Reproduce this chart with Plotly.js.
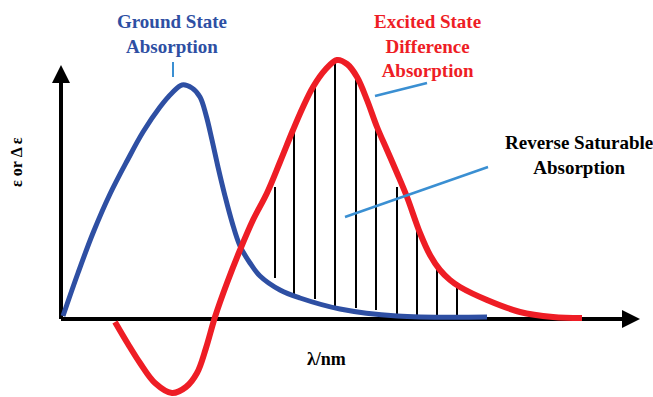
<!DOCTYPE html>
<html>
<head>
<meta charset="utf-8">
<script src="https://cdn.plot.ly/plotly-3.0.1.min.js"></script>
<style>html,body{margin:0;padding:0;background:#fff;}#chart{width:653px;height:397px;}</style>
</head>
<body>
<div id="chart"></div>
<script>
// Schematic coordinates: origin at the axis corner, units ~ pixels
const groundX = [2, 17, 32, 49, 66, 82, 99, 111, 121, 131, 139, 145, 151, 157, 164, 171, 179, 189, 199, 219, 239, 279, 336, 426];
const groundY = [3, 46, 86, 125, 158, 187, 212, 226, 234, 231, 222, 204, 179, 152, 123, 97, 73, 56, 43, 29, 21, 10, 3, 2];

const excitedX = [54, 67, 79, 94, 111, 125, 136, 145, 154, 166, 179, 192, 206, 219, 232, 242, 252, 264, 276, 286, 296, 306, 316, 326, 336, 346, 359, 369, 379, 389, 399, 426, 459, 492, 521];
const excitedY = [-3, -25, -44, -64, -74, -68, -54, -29, 2, 36, 69, 99, 126, 157, 189, 212, 232, 249, 259, 255, 242, 219, 192, 169, 146, 122, 86, 64, 49, 39, 32, 19, 7, 2, 1];

const rsaX = [214, 233, 254, 274, 295, 315, 336, 356, 376, 396];
const rsaTop = [132, 193, 234, 256, 244, 192, 132, 92, 52, 32];
const rsaBottom = [41, 22, 20, 11, 11, 9, 1, 1, 1, 1];

const labels = {
  ground: 'Ground State<br>Absorption',
  excited: 'Excited State<br>Difference<br>Absorption',
  rsa: 'Reverse Saturable<br>Absorption',
  yTitle: 'ε or Δ ε',
  xTitle: 'λ/nm'
};

const axisEndX = 579, axisEndY = 254;

const vx = [], vy = [];
rsaX.forEach((x, i) => { vx.push(x, x, null); vy.push(rsaBottom[i], rsaTop[i], null); });

const serif = 'Liberation Serif, Times New Roman, serif';
const leaderColor = '#3a8fd2';

const traces = [
  {x: [0, axisEndX - 6], y: [0, 0], mode: 'lines', line: {color: '#000', width: 4}, hoverinfo: 'skip'},
  {x: [0, 0], y: [0, axisEndY - 6], mode: 'lines', line: {color: '#000', width: 4}, hoverinfo: 'skip'},
  {x: vx, y: vy, mode: 'lines', line: {color: '#000', width: 2}, hoverinfo: 'skip'},
  {x: groundX, y: groundY, mode: 'lines', line: {color: '#2e4fa3', width: 5, shape: 'spline', smoothing: 1}, hoverinfo: 'skip'},
  {x: excitedX, y: excitedY, mode: 'lines', line: {color: '#ee1d25', width: 6, shape: 'spline', smoothing: 1}, hoverinfo: 'skip'},
  {x: [112, 112], y: [257, 242], mode: 'lines', line: {color: leaderColor, width: 2}, hoverinfo: 'skip'},
  {x: [314, 366], y: [223, 236], mode: 'lines', line: {color: leaderColor, width: 2.5}, hoverinfo: 'skip'},
  {x: [284, 427], y: [102, 152], mode: 'lines', line: {color: leaderColor, width: 2.5}, hoverinfo: 'skip'}
];

const annotations = [
  {x: axisEndX, y: 0, ax: axisEndX - 20, ay: 0, axref: 'x', ayref: 'y', xref: 'x', yref: 'y', text: '', showarrow: true, arrowhead: 2, arrowsize: 0.9, arrowwidth: 4, arrowcolor: '#000'},
  {x: 0, y: axisEndY, ax: 0, ay: axisEndY - 20, axref: 'x', ayref: 'y', xref: 'x', yref: 'y', text: '', showarrow: true, arrowhead: 2, arrowsize: 0.9, arrowwidth: 4, arrowcolor: '#000'},
  {x: 111, y: 285, xref: 'x', yref: 'y', text: '<b>' + labels.ground + '</b>', showarrow: false, font: {family: serif, size: 19, color: '#2e4fa3'}, align: 'center', xanchor: 'center', yanchor: 'middle'},
  {x: 366, y: 273, xref: 'x', yref: 'y', text: '<b>' + labels.excited + '</b>', showarrow: false, font: {family: serif, size: 19, color: '#ee1d25'}, align: 'center', xanchor: 'center', yanchor: 'middle'},
  {x: 518, y: 164, xref: 'x', yref: 'y', text: '<b>' + labels.rsa + '</b>', showarrow: false, font: {family: serif, size: 19, color: '#000'}, align: 'center', xanchor: 'center', yanchor: 'middle'},
  {x: -45, y: 157, xref: 'x', yref: 'y', text: '<b>' + labels.yTitle + '</b>', showarrow: false, textangle: -90, font: {family: serif, size: 16, color: '#000'}, xanchor: 'center', yanchor: 'middle'},
  {x: 265, y: -40, xref: 'x', yref: 'y', text: '<b>' + labels.xTitle + '</b>', showarrow: false, font: {family: serif, size: 18, color: '#000'}, xanchor: 'center', yanchor: 'middle'}
];

const layout = {
  width: 653, height: 397,
  margin: {l: 0, r: 0, t: 0, b: 0},
  paper_bgcolor: '#fff', plot_bgcolor: '#fff',
  showlegend: false,
  xaxis: {range: [-61, 592], visible: false, fixedrange: true},
  yaxis: {range: [-78, 319], visible: false, fixedrange: true},
  annotations: annotations
};

Plotly.newPlot('chart', traces, layout, {displayModeBar: false, staticPlot: true});
</script>
</body>
</html>
